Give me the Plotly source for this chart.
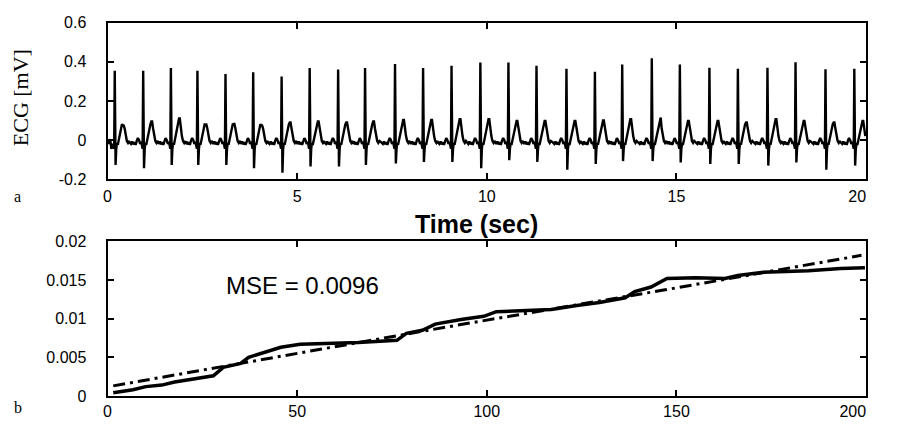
import plotly.graph_objects as go

# ---------------- data ----------------
# panel a: ECG beats (R-peak time [s], R amplitude, S trough, T peak) in mV
beat_times = [0.19, 0.94, 1.67, 2.37, 3.11, 3.84, 4.59, 5.33, 6.08, 6.79, 7.58, 8.32, 9.07, 9.83,
              10.57, 11.31, 12.10, 12.85, 13.57, 14.35, 15.09, 15.87, 16.62, 17.40, 18.14, 18.93, 19.69]
r_peaks = [0.354, 0.354, 0.368, 0.354, 0.338, 0.346, 0.325, 0.368, 0.360, 0.368, 0.389, 0.368, 0.380, 0.396,
           0.396, 0.380, 0.364, 0.349, 0.386, 0.418, 0.386, 0.370, 0.364, 0.370, 0.398, 0.362, 0.365]
s_troughs = [-0.128, -0.144, -0.128, -0.128, -0.128, -0.144, -0.168, -0.136, -0.136, -0.128, -0.120, -0.112,
             -0.112, -0.144, -0.103, -0.112, -0.152, -0.123, -0.108, -0.108, -0.115, -0.123, -0.123, -0.131,
             -0.115, -0.152, -0.131]
t_peaks = [0.074, 0.095, 0.110, 0.079, 0.082, 0.074, 0.090, 0.095, 0.090, 0.095, 0.102, 0.102, 0.107, 0.107,
           0.098, 0.098, 0.098, 0.100, 0.107, 0.115, 0.098, 0.098, 0.090, 0.107, 0.098, 0.090, 0.098]
# beat shape read from one beat: offset from R [s] and level [mV]; 'R'/'S'/'T' = use the beat's own value
beat_offsets = [-0.36, -0.32, -0.29, -0.26, -0.23, -0.20, -0.17, -0.14, -0.11, -0.08, -0.05, -0.03, -0.015,
                0.0, 0.022, 0.04, 0.06, 0.08, 0.10, 0.13, 0.16, 0.19, 0.215, 0.235, 0.26, 0.29, 0.32, 0.35,
                0.38]
beat_levels = [-0.012, -0.020, -0.008, -0.022, -0.012, -0.025, -0.005, 0.010, 0.000, -0.020, -0.010, -0.030,
               -0.045, 'R', 'S', -0.045, -0.015, -0.025, -0.005, 0.030, 0.055, 0.080, 'T', 'T', 0.060, 0.020,
               -0.005, -0.015, -0.005]
ecg_start_t = [0.0, 0.04, 0.07, 0.10, 0.14]
ecg_start_v = [0.0, -0.020, 0.005, -0.045, -0.020]

# panel b: cumulative curves
solid_x = [1.5, 6.7, 10.1, 14.3, 17.7, 22, 27.9, 30.5, 35.1, 37.2, 41.5, 45.7, 50.8, 57.6, 66.1, 76.3, 78.8,
           83, 86.4, 93.2, 99.2, 102.5, 108.5, 117, 123.7, 129.7, 136.5, 139, 143.3, 147.5, 155.1, 162.8,
           166.2, 172.9, 184.8, 193.3, 199.7]
solid_y = [0.0004, 0.0008, 0.0012, 0.0014, 0.0018, 0.0021, 0.0026, 0.0037, 0.0042, 0.0050, 0.0057, 0.0063,
           0.0067, 0.0068, 0.0069, 0.0072, 0.0081, 0.0085, 0.0093, 0.0099, 0.0103, 0.0109, 0.0110, 0.0112,
           0.0117, 0.0121, 0.0127, 0.0135, 0.0141, 0.0152, 0.0153, 0.0152, 0.0156, 0.0160, 0.0162, 0.0165,
           0.0166]
dash_x = [1.5, 27.9, 49.1, 91.5, 146.6, 198.8]
dash_y = [0.0013, 0.0036, 0.0055, 0.0091, 0.0137, 0.0182]

NB = '\u00a0'
top_xticks = [0, 5, 10, 15, 20]
top_xticktext = ['0', '5', '10', '15', '20' + NB * 4]
top_yticks = [-0.2, 0, 0.2, 0.4, 0.6]
top_yticktext = ['-0.2', '0', '0.2', '0.4', '0.6']
bot_xticks = [0, 50, 100, 150, 200]
bot_xticktext = ['0', '50', '100', '150', '200' + NB * 6]
bot_yticks = [0, 0.005, 0.01, 0.015, 0.02]
bot_yticktext = ['0', '0.005', '0.01', '0.015', '0.02']
mse_text = 'MSE = 0.0096'

# ---------------- assemble ECG trace from the read values ----------------
ecg_t = list(ecg_start_t)
ecg_v = list(ecg_start_v)
for bt, r, s, tp in zip(beat_times, r_peaks, s_troughs, t_peaks):
    for off, lev in zip(beat_offsets, beat_levels):
        t = bt + off
        if t <= ecg_t[-1] or t > 20:
            continue
        if lev == 'R':
            v = r
        elif lev == 'S':
            v = s
        elif lev == 'T':
            v = tp
        else:
            v = lev
        ecg_t.append(t)
        ecg_v.append(v)

fig = go.Figure()
fig.add_trace(go.Scatter(x=ecg_t, y=ecg_v, mode='lines', line=dict(color='black', width=2.4),
                         xaxis='x', yaxis='y', showlegend=False, hoverinfo='skip'))
fig.add_trace(go.Scatter(x=dash_x, y=dash_y, mode='lines',
                         line=dict(color='black', width=3, dash='12px,5px,3px,5px'),
                         xaxis='x2', yaxis='y2', showlegend=False))
fig.add_trace(go.Scatter(x=solid_x, y=solid_y, mode='lines', line=dict(color='black', width=3.5),
                         xaxis='x2', yaxis='y2', showlegend=False))

# the page keeps the browser's 8px body margin, so the figure is 16px smaller than the window
W, H = 887, 418
xl, xr = 99 / W, 885 / W
tick_font = dict(family='Liberation Sans, Arial, sans-serif', size=16, color='black')
axis_common = dict(showline=True, linecolor='black', linewidth=2, mirror='ticks', ticks='inside',
                   ticklen=6, tickwidth=2, tickcolor='black', showgrid=False, zeroline=False,
                   tickfont=tick_font, fixedrange=True, ticklabeloverflow='allow')

fig.update_layout(
    width=W, height=H, autosize=False, margin=dict(l=0, r=0, t=0, b=0),
    paper_bgcolor='white', plot_bgcolor='white', showlegend=False,
    xaxis=dict(domain=[xl, xr], range=[0, 20], anchor='y', tickvals=top_xticks,
               ticktext=top_xticktext, ticklabelstandoff=2, **axis_common),
    yaxis=dict(domain=[1 - 170 / H, 1 - 7 / H], range=[-0.2, 0.6], anchor='x', tickvals=top_yticks,
               ticktext=top_yticktext, ticklabelstandoff=16, **axis_common),
    xaxis2=dict(domain=[xl, xr], range=[0, 200], anchor='y2', tickvals=bot_xticks,
                ticktext=bot_xticktext, ticklabelstandoff=0, **axis_common),
    yaxis2=dict(domain=[1 - 396 / H, 1 - 235 / H], range=[0, 0.02], anchor='x2', tickvals=bot_yticks,
                ticktext=bot_yticktext, ticklabelstandoff=16, **axis_common),
    annotations=[
        dict(text='<b>Time (sec)</b>', xref='paper', yref='paper', x=481 / W, y=1 - 217 / H,
             showarrow=False, xanchor='center', yanchor='middle',
             font=dict(family='Liberation Sans Narrow, Arial Narrow, Liberation Sans, Arial', size=25,
                       color='black')),
        dict(text='ECG [mV]', xref='paper', yref='paper', x=9 / W, y=1 - 85 / H, textangle=-90,
             showarrow=False, xanchor='center', yanchor='middle',
             font=dict(family='Liberation Serif, Times New Roman, serif', size=22, color='black')),
        dict(text='a', xref='paper', yref='paper', x=0, y=1 - 188 / H, showarrow=False,
             xanchor='left', yanchor='middle',
             font=dict(family='Liberation Serif, Times New Roman, serif', size=16, color='black')),
        dict(text='b', xref='paper', yref='paper', x=0, y=1 - 408 / H, showarrow=False,
             xanchor='left', yanchor='middle',
             font=dict(family='Liberation Serif, Times New Roman, serif', size=16, color='black')),
        dict(text=mse_text, xref='x2', yref='y2', x=30.8, y=0.0143, showarrow=False,
             xanchor='left', yanchor='middle',
             font=dict(family='Liberation Sans, Arial, sans-serif', size=24, color='black')),
    ],
)

fig.write_html('out.html', config={'displayModeBar': False})
